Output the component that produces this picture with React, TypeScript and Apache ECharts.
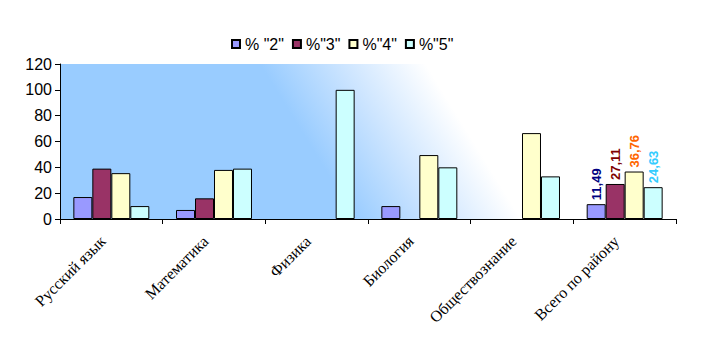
import React, { useEffect, useRef } from "react";
import * as echarts from "echarts";

const categories = ["Русский язык", "Математика", "Физика", "Биология", "Обществознание", "Всего по району"];
const seriesNames = ['% "2"', '%"3"', '%"4"', '%"5"'];
const values2 = [17, 7, 0, 10, 0, 11.49];
const values3 = [39, 16, 0, 0, 0, 27.11];
const values4 = [35.5, 38, 0, 49.5, 66.5, 36.76];
const values5 = [10, 39, 100, 40, 33, 24.63];
const barColors = ["#9999FF", "#993366", "#FFFFCC", "#CCFFFF"];
const labelColors = ["#000080", "#800000", "#FF6600", "#33CCFF"];
const yTicks = { min: 0, max: 120, interval: 20 };

export default function App() {
  const ref = useRef<HTMLDivElement>(null);
  useEffect(() => {
    if (!ref.current) return;
    const chart = echarts.init(ref.current, null, { renderer: "svg" });
    const all = [values2, values3, values4, values5];
    const series = all.map((vals, si) => ({
      name: seriesNames[si],
      type: "bar",
      barGap: "0%",
      barCategoryGap: "26%",
      itemStyle: { color: barColors[si], borderColor: "#000", borderWidth: 1 },
      data: vals.map((v, i) =>
        i === vals.length - 1
          ? {
              value: v,
              label: {
                show: true,
                position: "top",
                rotate: 90,
                align: "left",
                verticalAlign: "middle",
                distance: 7,
                offset: [-3, 0],
                color: labelColors[si],
                fontFamily: "Liberation Sans",
                fontWeight: "bold",
                fontSize: 13,
                formatter: () => String(v).replace(".", ","),
              },
            }
          : v === 0
          ? null
          : v
      ),
    }));
    chart.setOption({
      animation: false,
      legend: {
        top: 31,
        left: 226,
        itemWidth: 8,
        itemHeight: 8,
        itemGap: 8,
        icon: "rect",
        textStyle: { fontFamily: "Liberation Sans", fontSize: 16, color: "#000" },
        data: seriesNames,
      },
      grid: {
        left: 60,
        top: 64,
        width: 616,
        height: 155,
        show: true,
        borderWidth: 0,
        backgroundColor: new echarts.graphic.LinearGradient(
          260,
          64,
          380,
          -10,
          [
            { offset: 0, color: "#99CCFF" },
            { offset: 0.5, color: "#CDE5FF" },
            { offset: 1, color: "#FFFFFF" },
          ],
          true
        ),
      },
      xAxis: {
        type: "category",
        data: categories,
        axisLine: { show: true, lineStyle: { color: "#000", width: 1 } },
        axisTick: { show: true, length: 5, lineStyle: { color: "#000" } },
        axisLabel: {
          interval: 0,
          rotate: 45,
          margin: 11,
          padding: [0, 12, 0, 0],
          fontFamily: "Liberation Serif",
          fontSize: 16,
          color: "#000",
        },
      },
      yAxis: {
        type: "value",
        min: yTicks.min,
        max: yTicks.max,
        interval: yTicks.interval,
        axisLine: { show: true, lineStyle: { color: "#000", width: 1 } },
        axisTick: { show: true, length: 5, lineStyle: { color: "#000" } },
        splitLine: { show: false },
        axisLabel: { margin: 8, fontFamily: "Liberation Sans", fontSize: 16, color: "#000" },
      },
      series,
    });
    return () => chart.dispose();
  }, []);
  return (
    <div
      ref={ref}
      style={{ position: "fixed", left: 0, top: 0, width: 707, height: 353, background: "#fff" }}
    />
  );
}
